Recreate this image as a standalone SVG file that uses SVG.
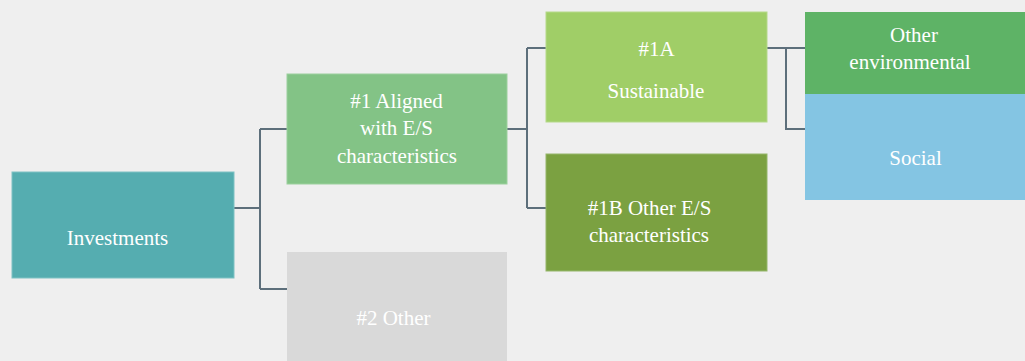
<svg xmlns="http://www.w3.org/2000/svg" width="1025" height="361" viewBox="0 0 1025 361">
<style>
.c{fill:none;stroke:#5d6f7b;stroke-width:2}
</style>
<rect width="1025" height="361" fill="#efefef"/>
<g id="connectors">
<path class="c" d="M234,208H260M260,129V289M260,129H287M260,289H287"/>
<path class="c" d="M507,129H527M527,48V208M527,48H546M527,208H546"/>
<path class="c" d="M767,48H805M786,48V129H805"/>
</g>
<g font-family="Liberation Serif" font-size="21" fill="#ffffff" text-anchor="middle">
<g id="investments">
<rect x="12" y="172" width="222" height="106" fill="#55adb0" stroke="#7ec2c4" stroke-width="1"/>
<text x="117.5" y="245">Investments</text>
</g>
<g id="aligned">
<rect x="287" y="74" width="220" height="110" fill="#83c386" stroke="#9bd09d" stroke-width="1"/>
<text x="396.5" y="108">#1 Aligned</text>
<text x="396.5" y="135">with E/S</text>
<text x="397" y="163">characteristics</text>
</g>
<g id="other2">
<rect x="287" y="252" width="220" height="112" fill="#d9d9d9"/>
<text x="393.5" y="325">#2 Other</text>
</g>
<g id="sustainable">
<rect x="546" y="12" width="221" height="110" fill="#a0ce67" stroke="#b5d98a" stroke-width="1"/>
<text x="656.5" y="56">#1A</text>
<text x="656" y="97.5">Sustainable</text>
</g>
<g id="otheres">
<rect x="546" y="154" width="221" height="117" fill="#7ba141" stroke="#95b66a" stroke-width="1"/>
<text x="649.5" y="214.5">#1B Other E/S</text>
<text x="649" y="242">characteristics</text>
</g>
<g id="otherenv">
<rect x="805" y="12" width="220" height="82" fill="#5eb366"/>
<text x="914" y="42">Other</text>
<text x="910" y="69">environmental</text>
</g>
<g id="social">
<rect x="805" y="94" width="220" height="106" fill="#84c5e3"/>
<text x="915.5" y="165">Social</text>
</g>
</g>
</svg>
